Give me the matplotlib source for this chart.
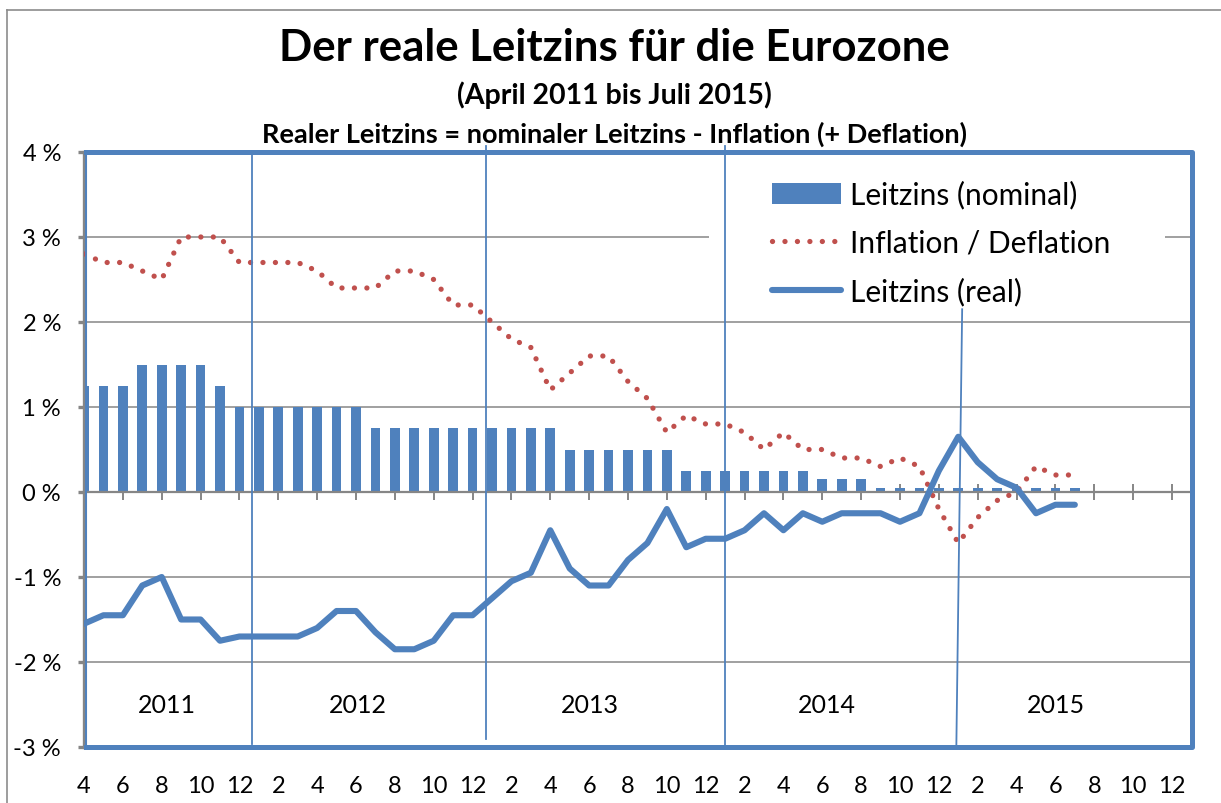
import matplotlib
matplotlib.use("Agg")
import matplotlib.pyplot as plt
import matplotlib.ticker as mticker
from matplotlib.lines import Line2D
from matplotlib.patches import Rectangle

plt.rcParams["font.family"] = ["Lato", "DejaVu Sans"]

BLUE = "#4F81BD"
RED = "#C0504D"
GRAY = "#868686"

# Monatswerte April 2011 .. Juli 2015 (in %)
nominal = [1.25, 1.25, 1.25, 1.5, 1.5, 1.5, 1.5, 1.25, 1.0,
           1.0, 1.0, 1.0, 1.0, 1.0, 1.0, 0.75, 0.75, 0.75, 0.75, 0.75, 0.75,
           0.75, 0.75, 0.75, 0.75, 0.5, 0.5, 0.5, 0.5, 0.5, 0.5, 0.25, 0.25,
           0.25, 0.25, 0.25, 0.25, 0.25, 0.15, 0.15, 0.15, 0.05, 0.05, 0.05, 0.05,
           0.05, 0.05, 0.05, 0.05, 0.05, 0.05, 0.05]
inflation = [2.8, 2.7, 2.7, 2.6, 2.5, 3.0, 3.0, 3.0, 2.7,
             2.7, 2.7, 2.7, 2.6, 2.4, 2.4, 2.4, 2.6, 2.6, 2.5, 2.2, 2.2,
             2.0, 1.8, 1.7, 1.2, 1.4, 1.6, 1.6, 1.3, 1.1, 0.7, 0.9, 0.8,
             0.8, 0.7, 0.5, 0.7, 0.5, 0.5, 0.4, 0.4, 0.3, 0.4, 0.3, -0.2,
             -0.6, -0.3, -0.1, 0.0, 0.3, 0.2, 0.2]
real = [-1.55, -1.45, -1.45, -1.1, -1.0, -1.5, -1.5, -1.75, -1.7,
        -1.7, -1.7, -1.7, -1.6, -1.4, -1.4, -1.65, -1.85, -1.85, -1.75, -1.45, -1.45,
        -1.25, -1.05, -0.95, -0.45, -0.9, -1.1, -1.1, -0.8, -0.6, -0.2, -0.65, -0.55,
        -0.55, -0.45, -0.25, -0.45, -0.25, -0.35, -0.25, -0.25, -0.25, -0.35, -0.25, 0.25,
        0.65, 0.35, 0.15, 0.05, -0.25, -0.15, -0.15]
months = list(range(len(nominal)))

# Achse: April 2011 .. Dezember 2015, jeder zweite Monat beschriftet
month_labels = ["4", "6", "8", "10", "12",
                "2", "4", "6", "8", "10", "12",
                "2", "4", "6", "8", "10", "12",
                "2", "4", "6", "8", "10", "12",
                "2", "4", "6", "8", "10", "12"]
month_ticks = list(range(0, 57, 2))

years = ["2011", "2012", "2013", "2014", "2015"]
year_x = [4.27, 14.1, 26.04, 38.24, 50.02]
year_sep_x = [8.65, 20.69, 32.99]

fig = plt.figure(figsize=(12.21, 8.04), dpi=100)
ax = fig.add_axes([84 / 1221, 56 / 804, 1108 / 1221, 595 / 804])

ax.set_xlim(0, 57.03)
ax.set_ylim(-3, 4)

# Gitter
ax.set_yticks(range(-3, 5))
ax.yaxis.set_major_formatter(mticker.FuncFormatter(lambda v, p: f"{int(round(v))} %"))
ax.grid(axis="y", color=GRAY, lw=1.1, zorder=0.5)
ax.set_axisbelow(True)

# weisser Hintergrund der Legende
ax.add_patch(Rectangle((0.564, 0.736), 0.412, 0.252, transform=ax.transAxes,
                       facecolor="white", edgecolor="none", zorder=1))

bars = ax.bar(months, nominal, width=0.5, color=BLUE, zorder=2,
              label="Leitzins (nominal)")
l_inf, = ax.plot(months, inflation, color=RED, lw=3.8, ls=(0, (0.01, 2.35)),
                 dash_capstyle="round", zorder=3, label="Inflation / Deflation")
l_real, = ax.plot(months, real, color=BLUE, lw=4.4, solid_capstyle="round",
                  solid_joinstyle="round", zorder=3, label="Leitzins (real)")

# Jahrestrenner
ax.plot([year_sep_x[0]] * 2, [-2.96, 4.0], color=BLUE, lw=1.3, zorder=4, clip_on=False)
ax.plot([year_sep_x[1]] * 2, [-2.9, 4.07], color=BLUE, lw=1.3, zorder=4, clip_on=False)
ax.plot([year_sep_x[2]] * 2, [-3.0, 4.07], color=BLUE, lw=1.3, zorder=4, clip_on=False)
ax.plot([45.2, 44.9], [2.15, -3.0], color=BLUE, lw=1.3, zorder=4, clip_on=False)

for yr, xp in zip(years, year_x):
    ax.text(xp, -2.5, yr, ha="center", va="center", fontsize=18, zorder=5)

# x-Achse bei 0 (obere Achsenlinie dorthin verschoben), Beschriftung unten
ax.spines["top"].set_position(("data", 0))
ax.spines["top"].set_color(GRAY)
ax.spines["top"].set_linewidth(1.6)
ax.spines["top"].set_zorder(2.5)
ax.spines["bottom"].set_visible(False)
ax.spines["right"].set_visible(False)
ax.spines["left"].set_color(GRAY)
ax.spines["left"].set_linewidth(2.4)

ax.set_xticks(month_ticks)
ax.set_xticklabels(month_labels)
ax.tick_params(axis="x", top=True, bottom=False, labeltop=False, labelbottom=True,
               direction="inout", length=12, width=1.4, color=GRAY,
               labelsize=17, pad=14)
ax.tick_params(axis="y", direction="out", length=4.5, width=2.4, color=GRAY,
               labelsize=17, pad=12)

# blauer Rahmen
frame_kw = dict(transform=ax.transAxes, color=BLUE, clip_on=False, zorder=6,
                solid_capstyle="projecting")
ax.plot([0.002, 1, 1, 0.002], [1, 1, 0, 0], lw=3.6, **frame_kw)
ax.plot([0.002, 0.002], [0, 1], lw=1.5, **frame_kw)

ax.legend(handles=[bars, l_inf, l_real], loc="upper left",
          bbox_to_anchor=(0.621, 0.953), frameon=False, fontsize=21.5,
          borderpad=0, borderaxespad=0, handlelength=2.3, handletextpad=0.3,
          labelspacing=0.68)

# Rahmen des Bildes
fig.add_artist(Line2D([7 / 1221, 1], [1 - 11 / 804] * 2, color="#8C8C8C", lw=1.2))
fig.add_artist(Line2D([7 / 1221] * 2, [0, 1 - 11 / 804], color="#8C8C8C", lw=1.2))

fig.text(0.503, 1 - 61 / 804, "Der reale Leitzins für die Eurozone",
         ha="center", va="baseline", fontsize=31.5, fontweight="bold")
fig.text(0.503, 1 - 104 / 804, "(April 2011 bis Juli 2015)",
         ha="center", va="baseline", fontsize=20.5, fontweight="bold")
fig.text(0.503, 1 - 143 / 804, "Realer Leitzins = nominaler Leitzins - Inflation (+ Deflation)",
         ha="center", va="baseline", fontsize=19.5, fontweight="bold")

fig.savefig("out.png", dpi=100)
